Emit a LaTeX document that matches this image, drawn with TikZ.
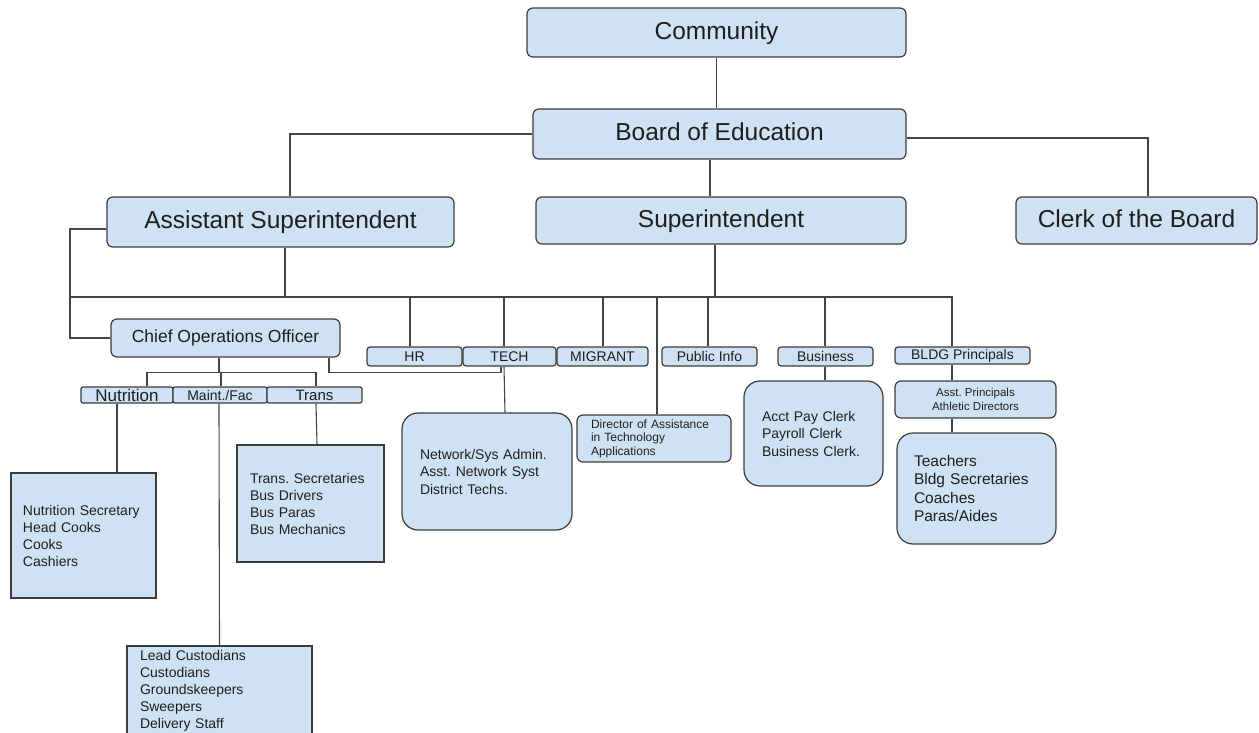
\documentclass[tikz,border=0pt]{standalone}
\usepackage{fontspec}
\setmainfont{Liberation Sans}
\frenchspacing
\definecolor{boxfill}{RGB}{207,226,243}
\definecolor{boxline}{RGB}{60,60,60}
\definecolor{linecol}{RGB}{68,68,68}
\definecolor{txt}{RGB}{30,30,30}
\begin{document}
\begin{tikzpicture}[x=1pt,y=-1pt,
  box/.style={draw=boxline, line width=1.2pt, fill=boxfill, text=txt, inner sep=0pt, rounded corners=6pt, align=center},
  big/.style={box, font=\fontsize{24.5}{28}\selectfont, text height=18pt, text depth=4pt},
  bar/.style={box, rounded corners=3pt, font=\fontsize{14}{16}\selectfont},
  listbox/.style={box, align=left, font=\fontsize{14}{17}\selectfont},
  conn/.style={draw=linecol, line width=1.1pt}
]
\useasboundingbox (0,0) rectangle (1259,733);
\clip (0,0) rectangle (1259,733);

% top levels
\node[big, minimum width=379pt, minimum height=49pt] (community) at (716.5,32.5) {Community};
\node[big, minimum width=373pt, minimum height=50pt] (board) at (719.5,134) {Board of Education};
\node[big, minimum width=347pt, minimum height=50pt] (asst) at (280.5,222) {Assistant Superintendent};
\node[big, minimum width=370pt, minimum height=47pt] (supt) at (721,220.5) {Superintendent};
\node[big, minimum width=241pt, minimum height=47pt] (clerk) at (1136.5,220.5) {Clerk of the Board};

% second level
\node[box, font=\fontsize{17.5}{20}\selectfont, minimum width=229pt, minimum height=38pt] (chief) at (225.5,338) {Chief Operations Officer};
\node[bar, minimum width=95pt, minimum height=19pt] (hr) at (414.5,356.5) {HR};
\node[bar, minimum width=93pt, minimum height=19pt] (tech) at (509.5,356.5) {TECH};
\node[bar, minimum width=91pt, minimum height=19pt] (migrant) at (602.5,356.5) {MIGRANT};
\node[bar, minimum width=95pt, minimum height=19pt] (pubinfo) at (709.5,356.5) {Public Info};
\node[bar, minimum width=95pt, minimum height=19pt] (business) at (825.5,356.5) {Business};
\node[bar, minimum width=135pt, minimum height=17pt] (bldg) at (962.5,355.5) {BLDG Principals};

% operations departments
\node[bar, rounded corners=2pt, font=\fontsize{17}{18}\selectfont, minimum width=92pt, minimum height=16pt] (nutrition) at (127,395) {Nutrition};
\node[bar, rounded corners=2pt, minimum width=94pt, minimum height=16pt] (maint) at (220,395) {Maint./Fac};
\node[bar, rounded corners=2pt, font=\fontsize{15}{16}\selectfont, minimum width=95pt, minimum height=16pt] (trans) at (314.5,395) {Trans};

% staff boxes
\node[listbox, rounded corners=0pt, text width=121pt, inner xsep=12pt, minimum height=125pt] (nutbox) at (83.5,535.5) {Nutrition Secretary\\Head Cooks\\Cooks\\Cashiers};
\node[listbox, rounded corners=0pt, text width=121pt, inner xsep=13pt, minimum height=117pt] (transbox) at (310.5,503.5) {Trans. Secretaries\\Bus Drivers\\Bus Paras\\Bus Mechanics};
\node[listbox, rounded corners=0pt, text width=159pt, inner xsep=13pt, minimum height=89pt] (leadbox) at (219.5,690.5) {Lead Custodians\\Custodians\\Groundskeepers\\Sweepers\\Delivery Staff};
\node[listbox, rounded corners=16pt, font=\fontsize{14}{17.5}\selectfont, text width=134pt, inner xsep=18pt, minimum height=117pt] (network) at (487,471.5) {Network/Sys Admin.\\Asst. Network Syst\\District Techs.};
\node[listbox, font=\fontsize{12}{13.5}\selectfont, text width=126pt, inner xsep=14pt, minimum height=47pt] (director) at (654,438.5) {Director of Assistance\\in Technology\\Applications};
\node[listbox, rounded corners=16pt, font=\fontsize{14}{17.5}\selectfont, text width=103pt, inner xsep=18pt, minimum height=105pt] (acct) at (813.5,433.5) {Acct Pay Clerk\\Payroll Clerk\\Business Clerk.};
\node[box, font=\fontsize{11.5}{14}\selectfont, minimum width=161pt, minimum height=37pt] (asstp) at (975.5,399.5) {Asst. Principals\\Athletic Directors};
\node[listbox, rounded corners=16pt, font=\fontsize{15.5}{18.5}\selectfont, text width=125pt, inner xsep=17pt, minimum height=111pt] (teachers) at (976.5,488.5) {Teachers\\Bldg Secretaries\\Coaches\\Paras/Aides};

% bus coordinates
\coordinate (busL) at (70,297);
\coordinate (busR) at (952,297);

% connectors: top
\draw[conn] (community.south) -- (community.south |- board.north);
\draw[conn] ([xshift=-9.5pt]board.south) -- ([xshift=-11pt]supt.north);
\draw[conn] (board.west) -| ([xshift=9.5pt]asst.north);
\draw[conn] ([yshift=-4pt]board.east) -| ([xshift=11.5pt]clerk.north);

% bus
\draw[conn] (busL) -- (busR) -- ([xshift=-10.5pt]bldg.north);
\draw[conn] ([xshift=4.5pt]asst.south) -- ([xshift=4.5pt]asst.south |- busL);
\draw[conn] ([xshift=-6pt]supt.south) -- ([xshift=-6pt]supt.south |- busL);
\draw[conn] ([yshift=-7pt]asst.west) -| (busL) |- (chief.west);
\draw[conn] ([xshift=-4.5pt]hr.north) -- ([xshift=-4.5pt]hr.north |- busL);
\draw[conn] ([xshift=-5.5pt]tech.north) -- ([xshift=-5.5pt]tech.north |- busL);
\draw[conn] ([xshift=0.5pt]migrant.north) -- ([xshift=0.5pt]migrant.north |- busL);
\draw[conn] ([xshift=3pt]director.north) -- ([xshift=3pt]director.north |- busL);
\draw[conn] ([xshift=-1.5pt]pubinfo.north) -- ([xshift=-1.5pt]pubinfo.north |- busL);
\draw[conn] ([xshift=-0.5pt]business.north) -- ([xshift=-0.5pt]business.north |- busL);

% operations
\draw[conn] ([xshift=-6.5pt]chief.south) -- ++(0,15) coordinate (cj);
\draw[conn] ([xshift=20pt]nutrition.north) |- (cj) -| ([xshift=1.5pt]trans.north);
\draw[conn] ([xshift=1pt]maint.north) -- ([xshift=1pt]maint.north |- cj);
\draw[conn] ([xshift=103.5pt]chief.south) -- ++(0,15) -| ([xshift=-8.5pt]tech.south);
\draw[conn] ([xshift=-10pt]nutrition.south) -- ([xshift=33.5pt]nutbox.north);
\draw[conn] ([xshift=-1pt]maint.south) -- (leadbox.north);
\draw[conn] ([xshift=1.5pt]trans.south) -- ([xshift=6.5pt]transbox.north);

% tech / business / principals
\draw[conn] ([xshift=-5.5pt]tech.south) -- ([xshift=18pt]network.north);
\draw[conn] ([xshift=-0.5pt]business.south) -- ([xshift=11.5pt]acct.north);
\draw[conn] ([xshift=-10.5pt]bldg.south) -- ([xshift=-23.5pt]asstp.north);
\draw[conn] ([xshift=-23.5pt]asstp.south) -- ([xshift=-24.5pt]teachers.north);
\end{tikzpicture}
\end{document}
